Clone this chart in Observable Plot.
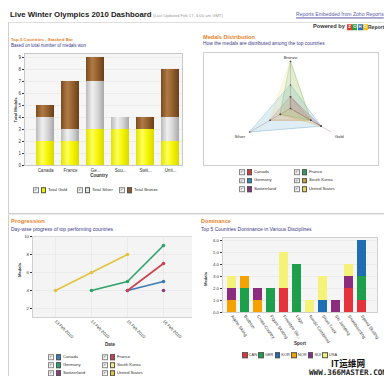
<!DOCTYPE html>
<html><head><meta charset="utf-8">
<script src="https://cdn.jsdelivr.net/npm/d3@7"></script>
<script src="https://cdn.jsdelivr.net/npm/@observablehq/plot@0.6"></script>
<style>
html,body{margin:0;padding:0;background:#fff;}
#root{position:relative;width:384px;height:376px;overflow:hidden;font-family:"Liberation Sans",Arial,sans-serif;background:#fff;}
.abs{position:absolute;white-space:nowrap;line-height:1;}
.ptitle{color:#e8822a;font-weight:bold;font-size:5px;}
.psub{color:#3a3a8a;font-size:4.3px;}
.axl{color:#333;font-weight:bold;font-size:4.6px;}
.lg{position:absolute;display:flex;align-items:center;font-size:4.3px;color:#333;white-space:nowrap;line-height:1;transform:translateY(-50%);}
.cb{display:inline-block;width:3.5px;height:3.5px;border:0.6px solid #888;background:#f2f2f2;margin-right:2.2px;font-size:4px;line-height:3.5px;color:#334;text-align:center;overflow:hidden}
.sw{display:inline-block;width:3.6px;height:3.6px;border:0.6px solid #555;margin-right:1.6px}
.chart{position:absolute;}
.chart svg{overflow:hidden;display:block}
</style>
</head><body>
<div id="root"></div>
<script>
// ---------- data ----------
const countries = ["Canada","France","Germany","South Korea","Switzerland","United States"];
const countryTicks = ["Canada","France","Ge...","Sou...","Swit...","Unit..."];
const goldMedals = [2,2,3,3,3,2];
const silverMedals = [2,1,4,1,0,2];
const bronzeMedals = [1,4,2,0,1,4];
const medalTypes = ["Gold","Silver","Bronze"];
const medalLegend = ["Total Gold","Total Silver","Total Bronze"];
const medalSwatch = ["#f2f200","#e8e8e8","#8c5a2c"];

const radarAxes = ["Bronze","Gold","Silver"];
const radarAngles = [90,-30,210];
const radarColors = ["#d43a3a","#2f9e5a","#2a8ab8","#c8a832","#8a2f7c","#e8d860"];

const progDates = ["13 Feb 2010","14 Feb 2010","15 Feb 2010","16 Feb 2010"];
const progCanada = [null,null,4,5];
const progFrance = [null,null,4,7];
const progGermany = [null,4,5,9];
const progSouthKorea = [null,null,null,null];
const progSwitzerland = [null,null,null,4];
const progUnitedStates = [4,6,8,null];
const progColors = ["#3b7bb7","#c9434f","#2fa26a","#f2ef80","#8b3a7b","#e3c23f"];

const sports = ["Alpine Skiing","Biathlon","Cross-Country","Figure Skating","Freestyle Skiing","Luge","Nordic Combined","Short Track","Ski Jumping","Snowboarding","Speed Skating"];
const sportTicks = ["Alpine Skiing","Biathlon","Cross-Country","Figure Skating","Freestyle Ski...","Luge","Nordic Combined","Short Track","Ski Jumping","Snowboarding","Speed Skating"];
const codes = ["CAN","GER","KOR","NOR","SUI","USA"];
const domCAN = [0,0,0,0,2,0,0,0,0,2,1];
const domGER = [0,2,0,2,0,4,0,0,0,0,2];
const domKOR = [0,0,0,0,0,0,0,1,0,0,3];
const domNOR = [1,1,1,0,0,0,0,0,0,0,0];
const domSUI = [1,0,1,0,0,0,0,0,1,1,0];
const domUSA = [1,0,0,0,3,0,1,2,0,1,0];
const domColors = ["#e5333b","#1e9f4b","#1f6db3","#f3a200","#8c2c7f","#f5f27a"];

const FONT = '"Liberation Sans", Arial, sans-serif';
const root = document.getElementById("root");

function addBox(x,y,w,h,style){const d=document.createElement("div");d.style.position="absolute";d.style.left=x+"px";d.style.top=y+"px";d.style.width=w+"px";d.style.height=h+"px";Object.assign(d.style,style||{});root.appendChild(d);return d;}
function addText(str,x,y,cls,opts={}){
  const el=document.createElement("div");el.className="abs "+(cls||"");el.textContent=str;
  el.style.left=x+"px";el.style.top=y+"px";
  let tf="translateY(-50%)";
  if(opts.anchor==="middle")tf="translate(-50%,-50%)";
  if(opts.anchor==="end")tf="translate(-100%,-50%)";
  if(opts.rotate)tf+=` rotate(${opts.rotate}deg)`;
  el.style.transform=tf;Object.assign(el.style,opts.style||{});
  if(opts.w)el.dataset.w=opts.w;
  root.appendChild(el);return el;
}
function legendItem(x,y,color,label,check=true){
  const d=document.createElement("div");d.className="lg";d.style.left=x+"px";d.style.top=y+"px";
  if(check){const c=document.createElement("span");c.className="cb";c.textContent="✓";d.appendChild(c);}
  const s=document.createElement("span");s.className="sw";s.style.background=color;d.appendChild(s);
  const t=document.createElement("span");t.textContent=label;d.appendChild(t);
  root.appendChild(d);return d;
}
function place(svg,x,y){const w=document.createElement("div");w.className="chart";w.style.left=x+"px";w.style.top=y+"px";w.appendChild(svg);root.appendChild(w);return w;}

// ---------- frame / header ----------
addBox(8,22,1,354,{background:"#cfcfcf"});
addBox(8,21.5,376,1,{background:"#dedede"});
addBox(8,212.5,376,1.5,{background:"#cfcfcf",boxShadow:"0 1px 1px #e6e6e6"});
addText("Live Winter Olympics 2010 Dashboard",10,15,"",{w:142,style:{fontWeight:"bold",fontSize:"9px",color:"#1a1a1a"}});
addText("(Last Updated Feb 17, 4:00 am GMT)",153,16,"",{w:70,style:{fontSize:"4px",color:"#9a9a9a"}});
addText("Reports Embedded from Zoho Reports",296,15,"",{w:88,style:{fontSize:"5px",color:"#5a5aa8",textDecoration:"underline"}});
addText("Powered by",313,27,"",{w:32,style:{fontSize:"5px",fontWeight:"bold",color:"#333"}});
(function(){const lg=document.createElement("div");lg.className="abs";lg.style.left="347px";lg.style.top="27px";lg.style.transform="translateY(-50%)";lg.style.display="flex";
  [["Z","#e23b2e"],["O","#2e9b3f"],["H","#2a6fc0"],["O","#f2c21b"]].forEach(([ch,c])=>{const s=document.createElement("span");s.textContent=ch;s.style.cssText=`background:${c};color:#fff;font-size:4.2px;font-weight:bold;width:5px;height:5.5px;line-height:5.5px;text-align:center;display:inline-block;margin-right:0.3px`;lg.appendChild(s);});
  root.appendChild(lg);})();
addText("Reports",368,27,"",{style:{fontSize:"5px",fontWeight:"bold",color:"#333"}});

// ---------- panel titles ----------
addText("Top 5 Countries - Stacked Bar",11,40,"ptitle",{w:62});
addText("Based on total number of medals won",11,46,"psub",{w:75});
addText("Medals Distribution",203,38,"ptitle",{w:52});
addText("How the medals are distributed among the top countries",203,43.5,"psub",{w:122});
addText("Progression",11,222,"ptitle",{w:34});
addText("Day-wise progress of top performing countries",11,229,"psub",{w:102});
addText("Dominance",201,222,"ptitle",{w:30});
addText("Top 5 Countries Dominance in Various Disciplines",201,230,"psub",{w:111});

// ---------- chart 1: stacked bar ----------
const medalRows=[];
countries.forEach((c,i)=>{medalRows.push({country:c,medal:"Gold",value:goldMedals[i]},{country:c,medal:"Silver",value:silverMedals[i]},{country:c,medal:"Bronze",value:bronzeMedals[i]});});
const chart1=Plot.plot({
  width:190,height:135,marginLeft:24,marginRight:8,marginTop:5,marginBottom:18,
  style:{background:"transparent",fontFamily:FONT,fontSize:"4.5px",color:"#333"},
  x:{domain:countries,range:[32.5,182.5],paddingInner:0.28,paddingOuter:0.14,tickSize:0,tickPadding:3,tickFormat:d=>countryTicks[countries.indexOf(d)],label:null},
  y:{domain:[0,9.33],ticks:d3.range(0,10),tickSize:2,tickPadding:1.5,label:null},
  color:{domain:medalTypes,range:medalTypes.map(m=>`url(#grad${m})`)},
  marks:[
    Plot.frame({fill:"#f6f6f6",stroke:"#c8c8c8"}),
    Plot.ruleY(d3.range(1,10),{stroke:"#e4e4e4",strokeWidth:0.6}),
    Plot.barY(medalRows,{x:"country",y:"value",fill:"medal"})
  ]
});
(function(){const defs=d3.select(chart1).insert("defs",":first-child");
  const g=[["Gold",["#e2e200","#ffff5a","#f4f400","#d8d800"]],["Silver",["#b9b9b9","#f0f0f0","#d6d6d6","#a8a8a8"]],["Bronze",["#7a4a1e","#b07a44","#93602f","#6a3e17"]]];
  g.forEach(([id,c])=>{const lgd=defs.append("linearGradient").attr("id","grad"+id).attr("x1",0).attr("x2",1).attr("y1",0).attr("y2",0);
    [0,0.35,0.65,1].forEach((o,k)=>lgd.append("stop").attr("offset",o).attr("stop-color",c[k]));});})();
place(chart1,0,48);
addText("Country",99,175.5,"axl",{anchor:"middle"});
addText("Total Medals",15.5,110,"axl",{anchor:"middle",rotate:-90,style:{fontSize:"4.2px"}});
[33,77,119].forEach((x,i)=>legendItem(x,190,medalSwatch[i],medalLegend[i]));

// ---------- chart 2: radar ----------
addBox(203,52,174,112,{border:"1px solid #cfcfcf",background:"#fff"});
const radarValues={Bronze:bronzeMedals,Gold:goldMedals,Silver:silverMedals};
const radarMax=d3.max([...goldMedals,...silverMedals,...bronzeMedals]);
const rad=a=>radarAngles[radarAxes.indexOf(a)]*Math.PI/180;
const radarPts=countries.flatMap((c,i)=>radarAxes.map(a=>{const v=radarValues[a][i];return {country:c,axis:a,value:v,x:v*Math.cos(rad(a)),y:v*Math.sin(rad(a))};}));
const R=radarMax/47; // units per pixel
const chart2=Plot.plot({
  width:175,height:113,margin:0,
  style:{background:"transparent",fontFamily:FONT,fontSize:"4.3px",color:"#333"},
  x:{domain:[-87*R,88*R],axis:null},
  y:{domain:[-57*R,56*R],axis:null},
  marks:[
    Plot.link(radarAxes,{x1:()=>0,y1:()=>0,x2:a=>radarMax*Math.cos(rad(a)),y2:a=>radarMax*Math.sin(rad(a)),stroke:"#c8b8b8",strokeWidth:0.7}),
    ...countries.map((c,i)=>Plot.line(radarPts.filter(d=>d.country===c),{x:"x",y:"y",curve:"linear-closed",fill:radarColors[i],fillOpacity:0.15,stroke:radarColors[i],strokeOpacity:0.5,strokeWidth:0.6})),
    Plot.dot(radarPts,{x:"x",y:"y",r:0.8,fill:"#4a4a4a"}),
    Plot.text(["Bronze"],{x:a=>radarMax*Math.cos(rad(a)),y:a=>radarMax*Math.sin(rad(a)),text:d=>d,dy:-4}),
    Plot.text(["Silver"],{x:a=>radarMax*Math.cos(rad(a)),y:a=>radarMax*Math.sin(rad(a)),text:d=>d,dx:-10,dy:4.5}),
    Plot.text(["Gold"],{x:a=>radarMax*Math.cos(rad(a)),y:a=>radarMax*Math.sin(rad(a)),text:d=>d,dx:8,dy:4.5})
  ]
});
place(chart2,203,52);
countries.forEach((c,i)=>legendItem(i%2===0?239:294,172+Math.floor(i/2)*8.5,radarColors[i],c));

// ---------- chart 3: progression ----------
const progSeries=[progCanada,progFrance,progGermany,progSouthKorea,progSwitzerland,progUnitedStates];
const progRows=countries.flatMap((c,i)=>progDates.map((d,j)=>({country:c,date:d,value:progSeries[i][j]})).filter(r=>r.value!=null));
const chart3=Plot.plot({
  width:192,height:144,marginLeft:32,marginRight:0,marginTop:4,marginBottom:59,
  style:{background:"transparent",fontFamily:FONT,fontSize:"4.3px",color:"#333"},
  x:{type:"point",domain:progDates,range:[37,181],tickSize:0,tickPadding:3,tickRotate:45,label:null},
  y:{domain:[1,10],ticks:[2,4,6,8,10],tickSize:2,tickPadding:1.5,label:null},
  color:{domain:countries,range:progColors},
  marks:[
    Plot.frame({fill:"#f4f4f4",stroke:"#d0d0d0"}),
    Plot.ruleX(progDates,{stroke:"#e2e2e2",strokeWidth:0.6}),
    Plot.ruleY([2,4,6,8,10],{stroke:"#e2e2e2",strokeWidth:0.6}),
    Plot.line(progRows,{x:"date",y:"value",stroke:"country",strokeWidth:1.6}),
    Plot.dot(progRows,{x:"date",y:"value",fill:"country",r:1.8})
  ]
});
place(chart3,0,232);
addText("Date",110,345,"axl",{anchor:"middle"});
addText("Medals",20,270,"axl",{anchor:"middle",rotate:-90,style:{fontSize:"4.2px"}});
countries.forEach((c,i)=>legendItem(i%2===0?48:102,357+Math.floor(i/2)*8,progColors[i],c));

// ---------- chart 4: dominance ----------
const domSeries=[domCAN,domGER,domKOR,domNOR,domSUI,domUSA];
const domRows=codes.flatMap((k,i)=>sports.map((s,j)=>({code:k,sport:s,value:domSeries[i][j]}))).filter(r=>r.value>0);
const chart4=Plot.plot({
  width:192,height:144,marginLeft:30,marginRight:7,marginTop:5,marginBottom:64,
  style:{background:"transparent",fontFamily:FONT,fontSize:"4.3px",color:"#333"},
  x:{domain:sports,range:[29.15,178.8],paddingInner:0.33,paddingOuter:0.25,tickSize:0,tickPadding:3,tickRotate:55,tickFormat:d=>sportTicks[sports.indexOf(d)],label:null},
  y:{domain:[0,6.25],ticks:d3.range(0,7),tickSize:2,tickPadding:1.5,label:null},
  color:{domain:codes,range:domColors},
  marks:[
    Plot.frame({fill:"#f5f5f5",stroke:"#d0d0d0"}),
    Plot.ruleY(d3.range(1,7),{stroke:"#e4e4e4",strokeWidth:0.6}),
    Plot.barY(domRows,{x:"sport",y:"value",fill:"code"})
  ]
});
place(chart4,192,232);
addText("Sport",300,344,"axl",{anchor:"middle"});
addText("Medals",206,279,"axl",{anchor:"middle",rotate:-90,style:{fontSize:"4.2px"}});
(function(){const d=document.createElement("div");d.className="lg";d.style.left="242px";d.style.top="355px";d.style.fontSize="4px";
  codes.forEach((k,i)=>{const s=document.createElement("span");s.className="sw";s.style.background=domColors[i];s.style.marginRight="1px";d.appendChild(s);const t=document.createElement("span");t.textContent=k;t.style.marginRight="1.2px";d.appendChild(t);});
  root.appendChild(d);})();

// watermark
addText("IT运维网",331,364,"",{style:{fontFamily:'"Noto Sans CJK SC"',fontWeight:"bold",fontSize:"8.6px",lineHeight:"0.9",color:"#111"}});
addText("WWW.366MASTER.COM",309,373,"",{w:78,style:{fontFamily:'"DejaVu Sans Mono",monospace',fontSize:"5px",color:"#222",fontWeight:"bold"}});

// fit text widths
document.querySelectorAll("[data-w]").forEach(el=>{const w=el.getBoundingClientRect().width;const fs=parseFloat(getComputedStyle(el).fontSize);if(w>0)el.style.fontSize=(fs*(+el.dataset.w)/w)+"px";});
</script>
</body></html>
